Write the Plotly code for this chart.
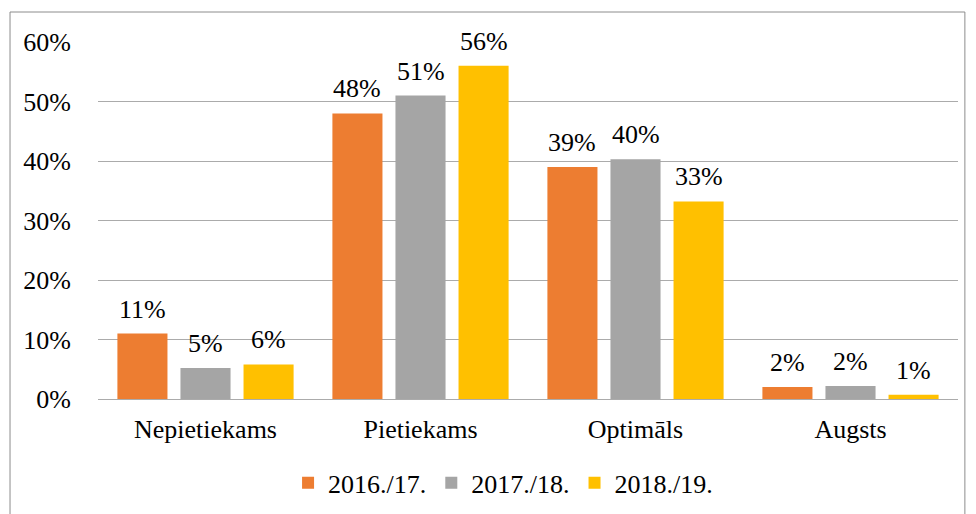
import plotly.graph_objects as go

categories = ["Nepietiekams", "Pietiekams", "Optimāls", "Augsts"]
series_names = ["2016./17.", "2017./18.", "2018./19."]
values_2016 = [0.11, 0.48, 0.39, 0.02]
values_2017 = [0.052, 0.51, 0.403, 0.022]
values_2018 = [0.058, 0.56, 0.332, 0.007]
colors = ["#ED7D31", "#A5A5A5", "#FFC000"]
y_ticks = [0, 0.1, 0.2, 0.3, 0.4, 0.5, 0.6]

font_family = "Liberation Serif, Times New Roman, serif"
bargap = 0.12
plot_w = 860

fig = go.Figure()
series = [values_2016, values_2017, values_2018]
for name, vals, col in zip(series_names, series, colors):
    fig.add_trace(go.Bar(
        x=categories,
        y=vals,
        name=name,
        marker=dict(color=col, line=dict(width=0)),
    ))

# data labels above each bar, offset to the bar's slot in the group
slot = plot_w / len(categories) * (1 - bargap) / len(series)
annotations = []
for i, vals in enumerate(series):
    for cat, v in zip(categories, vals):
        annotations.append(dict(
            x=cat, y=v, xref="x", yref="y",
            text=f"{v:.0%}", showarrow=False,
            xshift=(i - 1) * slot, yshift=8,
            yanchor="bottom",
            font=dict(size=26, color="#000000", family=font_family),
        ))

fig.update_layout(
    width=976,
    height=514,
    margin=dict(l=90, r=26, t=34, b=123),
    paper_bgcolor="white",
    plot_bgcolor="white",
    font=dict(family=font_family, size=26, color="#000000"),
    barmode="group",
    bargap=bargap,
    bargroupgap=0.206,
    showlegend=True,
    legend=dict(
        orientation="h",
        x=0.471, xanchor="center",
        y=-0.235, yanchor="middle",
        font=dict(size=26, family=font_family),
        itemwidth=30,
        traceorder="normal",
    ),
    xaxis=dict(
        showgrid=False,
        showline=False,
        ticks="",
        ticklabelstandoff=12,
        tickfont=dict(size=26),
    ),
    yaxis=dict(
        range=[0, 0.6],
        tickvals=y_ticks,
        tickformat=".0%",
        showgrid=True,
        gridcolor="#ABABAB",
        gridwidth=1,
        zeroline=True,
        zerolinecolor="#ABABAB",
        zerolinewidth=1,
        showline=False,
        ticks="",
        ticklabelstandoff=26,
        tickfont=dict(size=26),
    ),
    annotations=annotations,
    shapes=[dict(
        type="rect", xref="paper", yref="paper",
        x0=-0.1023, x1=1.008, y0=-0.35, y1=1.084,
        line=dict(color="#8C8C8C", width=1),
        fillcolor="rgba(0,0,0,0)",
        layer="below",
    )],
)

fig.write_html("out.html")
